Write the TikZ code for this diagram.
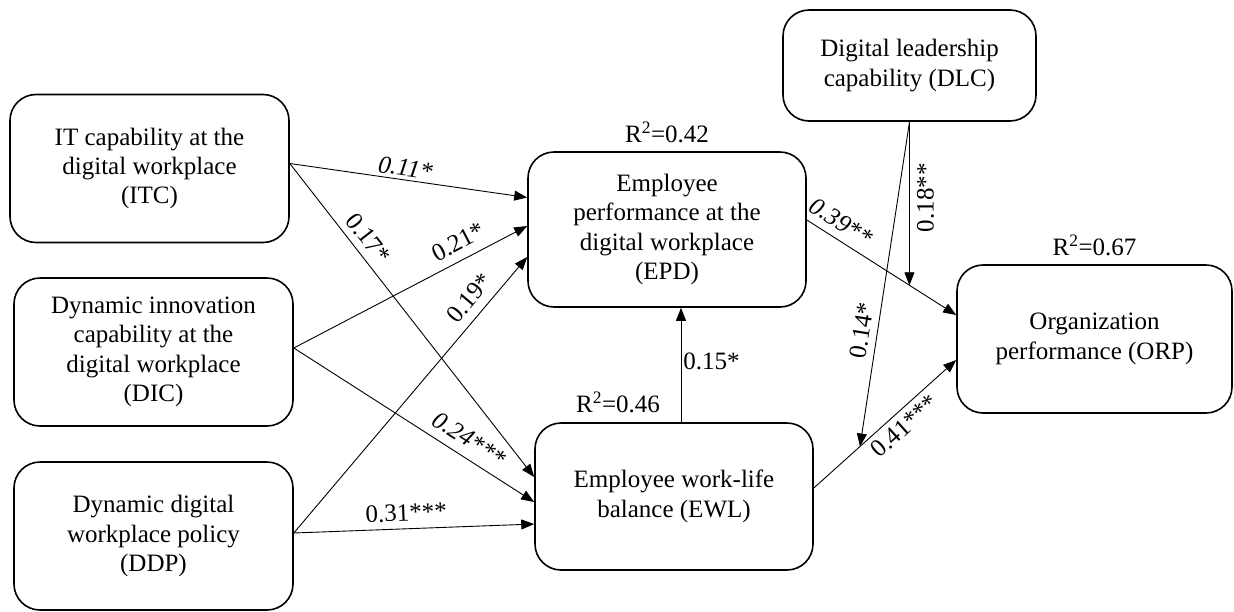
\documentclass[tikz,border=0pt]{standalone}
\usepackage{fontspec}
\setmainfont{Liberation Serif}
\usetikzlibrary{positioning,arrows.meta}

\newcommand{\diagfont}{\fontsize{25}{29.3}\selectfont}

\begin{document}
\begin{tikzpicture}[x=1pt,y=-1pt,font=\diagfont,
        box/.style={draw,line width=1.6pt,rounded corners=26pt,align=center,inner sep=0pt,
            minimum width=279pt,minimum height=148pt},
        arr/.style={-{Triangle[length=13pt,width=10pt]},line width=0.9pt},
        coef/.style={inner sep=2pt},
        coefit/.style={coef,font=\diagfont\itshape},
        rsq/.style={inner sep=0pt}]
    \useasboundingbox (0,0) rectangle (1234,611);
    \begin{scope}[every node/.style={box}]
        \node (ITC) at (149.5,168.5) {IT capability at the\\digital workplace\\(ITC)};
        \node (DIC) at (153.5,352) {Dynamic innovation\\capability at the\\digital workplace\\(DIC)};
        \node (DDP) at (153.5,536) {Dynamic digital\\workplace policy\\(DDP)};
        \node[minimum width=278pt,minimum height=155pt] (EPD) at (667,229.5) {Employee\\performance at the\\digital workplace\\(EPD)};
        \node[minimum width=278pt,minimum height=147pt] (EWL) at (674,496.5) {Employee work-life\\balance (EWL)};
        \node[minimum width=253pt,minimum height=111pt] (DLC) at (909.5,65.5) {Digital leadership\\capability (DLC)};
        \node[minimum width=275pt] (ORP) at (1094.5,339) {Organization\\performance (ORP)};
    \end{scope}
    \node[rsq,above=8pt of EPD] (r2EPD) {R\textsuperscript{2}=0.42};
    \node[rsq,above=9pt of EWL,xshift=-56pt] (r2EWL) {R\textsuperscript{2}=0.46};
    \node[rsq,above=8pt of ORP] (r2ORP) {R\textsuperscript{2}=0.67};
    \begin{scope}[every edge/.style={draw,arr}]
        \path
            ([yshift=5pt]ITC.east) edge node[coefit,pos=0.48,sloped,above=1pt] (c11) {0.11*} ([yshift=32pt]EPD.west)
            ([yshift=5pt]ITC.east) edge node[coef,pos=0.27,sloped,above=5pt] (c17) {0.17*} ([yshift=19.5pt]EWL.west)
            ([yshift=4pt]DIC.east) edge node[coef,pos=0.74,sloped,above=7pt] (c21) {0.21*} ([yshift=3.5pt]EPD.west)
            ([yshift=4pt]DIC.east) edge node[coefit,pos=0.69,sloped,above=7pt] (c24) {0.24***} ([yshift=-5.5pt]EWL.west)
            ([yshift=3pt]DDP.east) edge node[coef,pos=0.81,sloped,above=7pt] (c19) {0.19*} ([yshift=-27.5pt]EPD.west)
            ([yshift=3pt]DDP.east) edge node[coef,pos=0.47,sloped,above=5pt] (c31) {0.31***} ([yshift=-27.5pt]EWL.west)
            ([xshift=7pt]EWL.north) edge node[coef,right,pos=0.53] (c15) {0.15*} ([xshift=14pt]EPD.south);
    \end{scope}
    \draw[arr] ([yshift=9.5pt]EPD.east) -- coordinate[pos=0.687] (m39)
        node[coefit,pos=0.17,sloped,above=6pt] (c39) {0.39**} ([yshift=24pt]ORP.west);
    \draw[arr] ([yshift=8.5pt]EWL.east) -- coordinate[pos=0.324] (m41)
        node[coef,pos=0.57,sloped,below=3.5pt] (c41) {0.41***} ([yshift=-21pt]ORP.west);
    \draw[arr] (DLC.south) -- node[coef,pos=0.465,rotate=90,anchor=north,inner sep=7pt] (c18) {0.18**} (m39);
    \draw[arr] (DLC.south) -- node[coef,pos=0.65,rotate=81,anchor=south,inner sep=7pt] (c14) {0.14*} (m41);
\end{tikzpicture}
\end{document}
